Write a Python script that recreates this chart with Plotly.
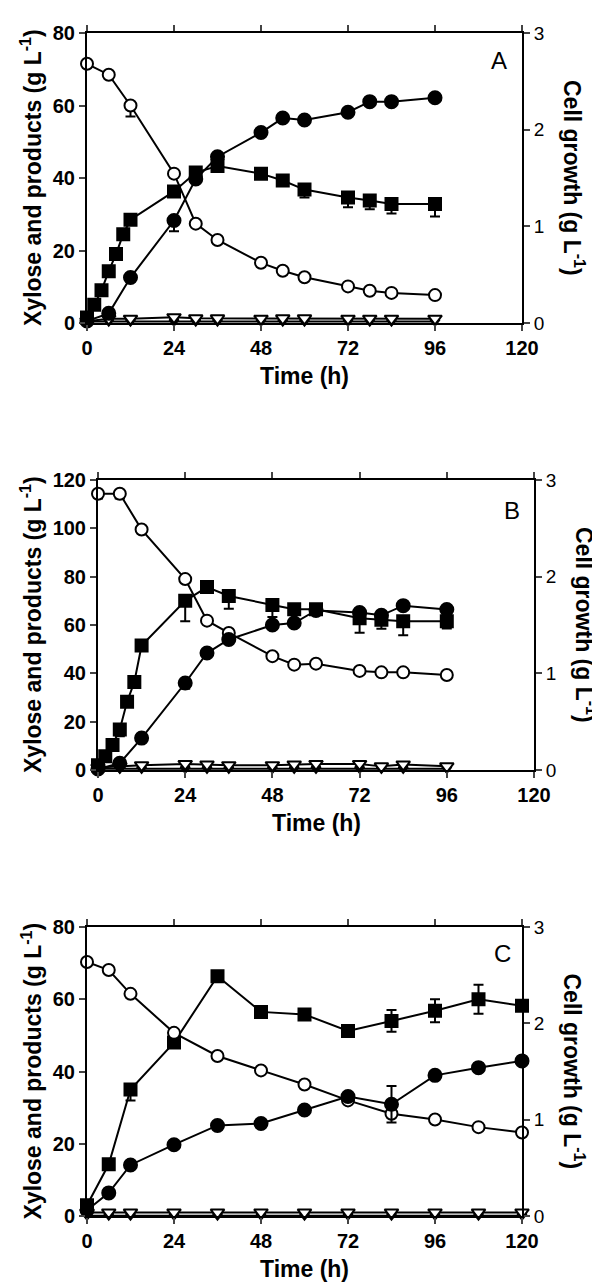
import plotly.graph_objects as go

# ---------------- Data ----------------
# Panel A
a_time = [0, 6, 12, 24, 30, 36, 48, 54, 60, 72, 78, 84, 96]
a_time_sq = [0, 2, 4, 6, 8, 10, 12, 24, 30, 36, 48, 54, 60, 72, 78, 84, 96]
a_xylose = [71.5, 68.5, 60.0, 41.2, 27.4, 22.9, 16.6, 14.4, 12.6, 10.1, 8.9, 8.3, 7.7]
a_xylose_err = [None, None, 3.0, None, None, None, None, None, None, None, None, None, None]
a_square = [1.5, 5.0, 9.0, 14.3, 19.0, 24.5, 28.5, 36.3, 41.5, 43.3, 41.2, 39.3, 36.8, 34.6, 33.8, 32.8, 32.8]
a_square_err = [None, None, None, None, None, None, None, None, None, None, None, None, 2.2, 2.7, 2.4, 2.6, 3.4]
a_cell = [0.02, 0.10, 0.47, 1.06, 1.49, 1.72, 1.97, 2.12, 2.10, 2.18, 2.29, 2.29, 2.33]
a_cell_err = [None, None, None, 0.11, None, None, None, None, None, None, None, None, None]
a_tri_open = [0.5, 1.2, 1.2, 1.6, 1.3, 1.3, 1.2, 1.3, 1.3, 1.2, 1.2, 1.2, 1.2]
a_tri_fill = [0.4, 0.4, 0.4, 0.4, 0.4, 0.4, 0.4, 0.4, 0.4, 0.4, 0.4, 0.4, 0.4]

# Panel B
b_time = [0, 6, 12, 24, 30, 36, 48, 54, 60, 72, 78, 84, 96]
b_time_sq = [0, 2, 4, 6, 8, 10, 12, 24, 30, 36, 48, 54, 60, 72, 78, 84, 96]
b_xylose = [114.3, 114.3, 99.5, 79.0, 61.8, 56.7, 47.1, 43.6, 44.0, 41.0, 40.4, 40.4, 39.3]
b_xylose_err = [2.0, 2.0, None, None, None, None, None, None, None, None, None, None, None]
b_square = [2.0, 5.7, 10.3, 16.8, 28.2, 36.4, 51.5, 70.0, 75.7, 72.0, 68.3, 66.5, 66.5, 62.8, 62.2, 61.6, 61.6]
b_square_err = [None, None, None, 2.8, None, None, None, 8.4, None, 5.3, 5.0, None, None, 6.0, 3.8, 5.8, 3.0]
b_cell = [0.01, 0.07, 0.33, 0.90, 1.21, 1.35, 1.50, 1.52, 1.65, 1.63, 1.60, 1.70, 1.66]
b_cell_err = [None, None, None, 0.06, None, None, None, None, None, None, None, None, None]
b_tri_open = [1.0, 1.5, 2.0, 2.5, 2.3, 2.0, 2.0, 2.3, 2.5, 2.5, 1.5, 2.3, 1.5]
b_tri_fill = [0.5, 0.5, 0.5, 0.5, 0.5, 0.5, 0.5, 0.5, 0.5, 0.5, 0.5, 0.5, 0.5]

# Panel C
c_time = [0, 6, 12, 24, 36, 48, 60, 72, 84, 96, 108, 120]
c_xylose = [70.3, 68.1, 61.5, 50.7, 44.3, 40.3, 36.4, 32.0, 28.3, 26.7, 24.6, 23.1]
c_square = [3.0, 14.3, 35.0, 48.0, 66.4, 56.5, 55.8, 51.2, 54.0, 56.8, 60.0, 58.2]
c_square_err_up = [None, None, None, None, None, None, None, None, 3.0, 3.2, 4.0, None]
c_square_err_dn = [None, None, 3.0, None, None, None, None, None, 3.0, 3.2, 4.0, None]
c_cell = [0.06, 0.24, 0.53, 0.74, 0.94, 0.96, 1.10, 1.24, 1.16, 1.46, 1.54, 1.61]
c_cell_err = [None, None, None, None, None, None, None, None, 0.19, None, None, None]
c_tri_open = [1.0, 1.0, 1.0, 1.0, 1.0, 1.0, 1.0, 1.0, 1.0, 1.0, 1.0, 1.0]
c_tri_fill = [0.1, 0.1, 0.1, 0.1, 0.1, 0.1, 0.1, 0.1, 0.1, 0.1, 0.1, 0.1]

x_ticks = [0, 24, 48, 72, 96, 120]
panel_letters = ["A", "B", "C"]
left_title = "Xylose and products (g L<sup>-1</sup>)"
right_title = "Cell growth (g L<sup>-1</sup>)"
x_title = "Time (h)"

# ---------------- Figure ----------------
W, H = 600, 1285
FONT = "Liberation Sans, Arial, sans-serif"
fig = go.Figure()

LW = 2


def err(plus, minus):
    if plus is None and minus is None:
        return None
    return dict(type="data", symmetric=False,
                array=plus if plus is not None else [None] * len(minus),
                arrayminus=minus if minus is not None else [None] * len(plus),
                thickness=2, width=5, color="black")


def add_series(x, y, xa, ya, symbol, fill, size, e=None):
    fig.add_trace(go.Scatter(
        x=x, y=y, xaxis=xa, yaxis=ya, mode="lines+markers",
        line=dict(color="black", width=LW),
        marker=dict(symbol=symbol, size=size, color=fill,
                    line=dict(color="black", width=2)),
        error_y=e, cliponaxis=False, showlegend=False))


panels = [
    dict(xa="x", yl="y", yr="y2", ymax=80, dtick=20,
         xd=[79, 514], yd=[25, 315], rt=566, letter=(491, 53),
         t=a_time, tsq=a_time_sq, xyl=a_xylose, xyl_e=a_xylose_err,
         sq=a_square, sq_up=None, sq_dn=a_square_err,
         cell=a_cell, cell_up=None, cell_dn=a_cell_err,
         to=a_tri_open, tf=a_tri_fill),
    dict(xa="x2", yl="y3", yr="y4", ymax=120, dtick=20,
         xd=[90, 526], yd=[472, 762], rt=578, letter=(504, 503),
         t=b_time, tsq=b_time_sq, xyl=b_xylose, xyl_e=b_xylose_err,
         sq=b_square, sq_up=None, sq_dn=b_square_err,
         cell=b_cell, cell_up=None, cell_dn=b_cell_err,
         to=b_tri_open, tf=b_tri_fill),
    dict(xa="x3", yl="y5", yr="y6", ymax=80, dtick=20,
         xd=[79, 514], yd=[919, 1208], rt=566, letter=(494, 945),
         t=c_time, tsq=c_time, xyl=c_xylose, xyl_e=None,
         sq=c_square, sq_up=c_square_err_up, sq_dn=c_square_err_dn,
         cell=c_cell, cell_up=c_cell_err, cell_dn=c_cell_err,
         to=c_tri_open, tf=c_tri_fill),
]

annotations = []
for i, p in enumerate(panels):
    add_series(p["t"], p["tf"], p["xa"], p["yl"], "triangle-down", "black", 8)
    add_series(p["t"], p["to"], p["xa"], p["yl"], "triangle-down", "white", 12)
    add_series(p["t"], p["cell"], p["xa"], p["yr"], "circle", "black", 13,
               err(p["cell_up"], p["cell_dn"]))
    add_series(p["tsq"], p["sq"], p["xa"], p["yl"], "square", "black", 12,
               err(p["sq_up"], p["sq_dn"]))
    add_series(p["t"], p["xyl"], p["xa"], p["yl"], "circle", "white", 12,
               err(None, p["xyl_e"]) if p["xyl_e"] is not None else None)

    xd = [p["xd"][0] / W, p["xd"][1] / W]
    yd = [1 - p["yd"][1] / H, 1 - p["yd"][0] / H]
    xkey = "xaxis" if i == 0 else "xaxis%d" % (i + 1)
    ylkey = "yaxis" if i == 0 else "yaxis%d" % (2 * i + 1)
    yrkey = "yaxis%d" % (2 * i + 2)
    fig.layout[xkey] = dict(
        domain=xd, anchor=p["yl"], range=[0, 120], tickvals=x_ticks,
        ticks="outside", ticklen=6, tickwidth=2, showline=True, linewidth=2,
        linecolor="black", mirror="ticks", showgrid=False, zeroline=False,
        automargin=False,
        tickfont=dict(family=FONT, size=20, color="black", weight="bold"))
    fig.layout[ylkey] = dict(
        domain=yd, anchor=p["xa"], range=[0, p["ymax"]], dtick=p["dtick"],
        ticks="outside", ticklen=6, tickwidth=2, showline=True, linewidth=2,
        linecolor="black", showgrid=False, zeroline=False, automargin=False,
        tickfont=dict(family=FONT, size=20, color="black", weight="bold"))
    fig.layout[yrkey] = dict(
        domain=yd, anchor=p["xa"], overlaying=p["yl"], side="right",
        range=[0, 3], dtick=1, ticks="outside", ticklen=6, tickwidth=2,
        showline=True, linewidth=2, linecolor="black", showgrid=False,
        zeroline=False, automargin=False,
        tickfont=dict(family=FONT, size=19, color="black"))

    ymid = 1 - (p["yd"][0] + p["yd"][1]) / 2 / H
    annotations.append(dict(
        text=left_title, x=23 / W, y=ymid, xref="paper", yref="paper",
        textangle=-90, showarrow=False, xanchor="center", yanchor="middle",
        font=dict(family=FONT, size=23, color="black", weight="bold")))
    annotations.append(dict(
        text=right_title, x=p["rt"] / W, y=ymid, xref="paper", yref="paper",
        textangle=90, showarrow=False, xanchor="center", yanchor="middle",
        font=dict(family=FONT, size=23, color="black", weight="bold")))
    annotations.append(dict(
        text=x_title, x=(xd[0] + xd[1]) / 2, y=1 - (p["yd"][1] + 53) / H,
        xref="paper", yref="paper", showarrow=False,
        xanchor="center", yanchor="middle",
        font=dict(family=FONT, size=23, color="black", weight="bold")))
    annotations.append(dict(
        text=panel_letters[i], x=p["letter"][0] / W, y=1 - p["letter"][1] / H,
        xref="paper", yref="paper", showarrow=False,
        xanchor="center", yanchor="middle",
        font=dict(family=FONT, size=24, color="black")))

fig.update_layout(
    width=W, height=H,
    margin=dict(l=0, r=0, t=0, b=0, pad=0, autoexpand=False),
    paper_bgcolor="white", plot_bgcolor="white",
    annotations=annotations, showlegend=False)

fig.write_html("out.html")
